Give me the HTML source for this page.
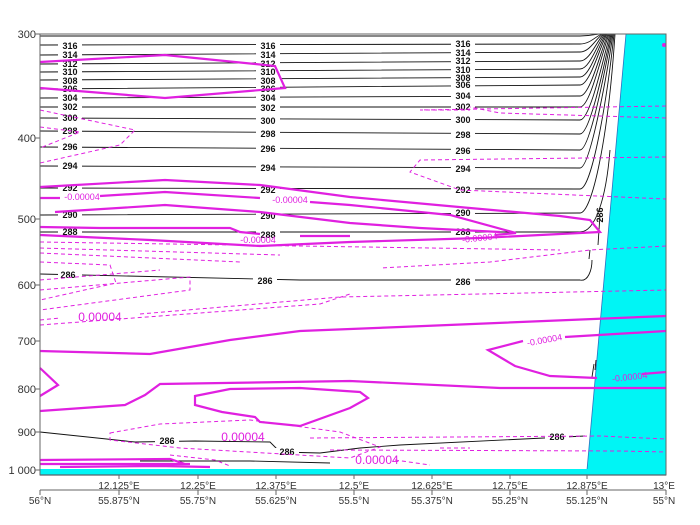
<!DOCTYPE html>
<html><head><meta charset="utf-8"><style>
html,body{margin:0;padding:0;background:#fff;}
svg{display:block;font-family:"Liberation Sans",sans-serif;}
.ax{font-size:11px;fill:#333;}
.lb{font-size:9px;font-weight:bold;fill:#111;}
.ml{font-size:9px;fill:#e020e0;}
</style></head><body>
<svg width="700" height="525" viewBox="0 0 700 525" xmlns="http://www.w3.org/2000/svg">
<rect width="700" height="525" fill="#fff"/>
<!-- cyan terrain -->
<polygon points="626,34 666,34 666,470 587,470" fill="#00f5f5" stroke="#3070c0" stroke-width="0.8"/>
<rect x="40" y="469" width="626" height="6" fill="#00f5f5"/>
<line x1="40" y1="475" x2="666" y2="475" stroke="#1a4f7a" stroke-width="1.2"/>
<!-- isotherms -->
<g fill="none" stroke="#111" stroke-width="0.9">
<path d="M40,36 L580,36 C592,36 596,34 600,34"/>
<path d="M40,45 L580,44 C590,44 596,36 602,34"/>
<path d="M40,55 L580,52 C590,52 596,38 603,34"/>
<path d="M40,64 L580,61 C590,61 597,40 604,34"/>
<path d="M40,72 L580,69 C590,69 598,42 605,34"/>
<path d="M40,80 L580,77 C590,77 599,44 606,34"/>
<path d="M40,89 L580,85 C590,85 600,46 607,34"/>
<path d="M40,98 L580,96 C590,96 601,50 608,34"/>
<path d="M40,107 L580,107 C590,107 601,56 609,34"/>
<path d="M40,118 L580,120 C590,120 603,60 610,34"/>
<path d="M40,131 L580,134 C590,134 604,66 611,34"/>
<path d="M40,147 L580,150 C590,150 605,70 612,34"/>
<path d="M40,166 L580,168 C590,168 606,80 613,34"/>
<path d="M40,188 L580,189 C592,189 607,100 614,34"/>
<path d="M40,215 L580,213 C592,213 608,140 615,34"/>
<path d="M40,232 L580,232 C595,232 606,200 610,150"/>
<path d="M40,274 L300,280 L580,280 C588,282 592,270 592,260"/>
<path d="M589,259 L590,250 M598,245 L600,215"/>
<path d="M594,364 L592,377 M596,360 L595,370"/>
<path d="M40,432 L135,442 L195,441 L270,442 L280,452 L320,453 L360,448 L400,445 L585,436"/>
<path d="M140,461 L250,461 L330,463"/>
</g>
<!-- isotherm labels -->
<g class="lb" text-anchor="middle">
<g fill="#fff" stroke="none">
<rect x="58" y="40" width="24" height="96"/><rect x="256" y="39" width="24" height="99"/><rect x="451" y="38" width="24" height="101"/>
<rect x="58" y="142" width="24" height="10"/><rect x="256" y="142" width="24" height="10"/><rect x="451" y="145" width="24" height="10"/>
<rect x="58" y="161" width="24" height="10"/><rect x="256" y="161" width="24" height="10"/><rect x="451" y="163" width="24" height="10"/>
<rect x="58" y="183" width="24" height="10"/><rect x="256" y="183" width="24" height="10"/><rect x="451" y="184" width="24" height="10"/>
<rect x="58" y="210" width="24" height="10"/><rect x="256" y="210" width="24" height="10"/><rect x="451" y="208" width="24" height="10"/>
<rect x="58" y="227" width="24" height="10"/><rect x="256" y="228" width="24" height="10"/><rect x="451" y="227" width="24" height="10"/>
<rect x="58" y="269" width="24" height="10"/><rect x="253" y="276" width="24" height="10"/><rect x="451" y="277" width="24" height="10"/>
<rect x="155" y="437" width="24" height="10"/><rect x="545" y="432" width="24" height="10"/><rect x="275" y="448" width="24" height="10"/>
</g>
<text x="70" y="49">316</text><text x="268" y="49">316</text><text x="463" y="47">316</text>
<text x="70" y="58">314</text><text x="268" y="58">314</text><text x="463" y="56">314</text>
<text x="70" y="67">312</text><text x="268" y="67">312</text><text x="463" y="64">312</text>
<text x="70" y="75">310</text><text x="268" y="75">310</text><text x="463" y="73">310</text>
<text x="70" y="84">308</text><text x="268" y="84">308</text><text x="463" y="81">308</text>
<text x="70" y="92">306</text><text x="268" y="92">306</text><text x="463" y="88">306</text>
<text x="70" y="101">304</text><text x="268" y="101">304</text><text x="463" y="99">304</text>
<text x="70" y="110">302</text><text x="268" y="111">302</text><text x="463" y="110">302</text>
<text x="70" y="121">300</text><text x="268" y="124">300</text><text x="463" y="123">300</text>
<text x="70" y="134">298</text><text x="268" y="137">298</text><text x="463" y="138">298</text>
<text x="70" y="150">296</text><text x="268" y="152">296</text><text x="463" y="154">296</text>
<text x="70" y="169">294</text><text x="268" y="171">294</text><text x="463" y="172">294</text>
<text x="70" y="191">292</text><text x="268" y="193">292</text><text x="463" y="193">292</text>
<text x="70" y="218">290</text><text x="268" y="219">290</text><text x="463" y="216">290</text>
<text x="70" y="235">288</text><text x="268" y="238">288</text><text x="463" y="235">288</text>
<text x="68" y="278">286</text><text x="265" y="284">286</text><text x="463" y="285">286</text>
<text x="167" y="444">286</text><text x="557" y="440">286</text><text x="287" y="455">286</text>
<text x="0" y="0" transform="translate(603,215) rotate(-90)">286</text>
</g>
<!-- magenta solid -->
<g fill="none" stroke="#e020e0" stroke-width="2.2">
<path d="M40,62 L165,55 L275,66 L285,88 L165,98 L40,88"/>
<path d="M40,187 L165,180 L260,185 L350,197 L470,208 L560,216 L590,220 L600,232 L480,238 L350,242 L260,246 L150,240 L40,235"/>
<path d="M40,198 L60,198 M100,196 L165,192 L260,198 M310,202 L350,205 L450,215 L516,233 L495,235"/>
<path d="M55,212 L165,205 L260,212 L350,223 L420,228 L500,232"/>
<path d="M40,227 L100,228 L230,228 L240,232 L260,234 M300,236 L350,236"/>
<path d="M40,351 L150,354 L230,340 L300,331 L400,327 L666,316"/>
<path d="M40,368 L58,385 L40,396"/>
<path d="M40,411 L125,405 L145,395 L160,384 L350,381 L500,388 L666,388"/>
<path d="M195,396 L230,389 L300,388 L360,392 L368,398 L350,408 L300,426 L260,422 L255,417 L222,412 L195,405 Z"/>
<path d="M666,331 L565,337 M523,341 L488,350 L515,366 L550,376 L597,378 M642,374 L666,372"/>
<path d="M40,460 L170,459 L185,464 M40,464 L190,464 M60,467 L160,466 L210,467"/>
</g>
<g class="ml" text-anchor="middle">
<text x="82" y="200">-0.00004</text>
<text x="290" y="203">-0.00004</text>
<text x="258" y="243">-0.00004</text>
<text x="480" y="241" transform="rotate(-6 480 241)">-0.00004</text>
<text x="545" y="343" transform="rotate(-10 545 343)">-0.00004</text>
<text x="630" y="380" transform="rotate(-6 630 380)">-0.00004</text>
<text x="100" y="321" style="font-size:12px">0.00004</text>
<text x="243" y="441" style="font-size:12px">0.00004</text>
<text x="377" y="464" style="font-size:12px">0.00004</text>
</g>
<!-- magenta dashed -->
<g fill="none" stroke="#e020e0" stroke-width="1" stroke-dasharray="4,3">
<path d="M40,110 L135,130 L120,145 L40,163"/>
<path d="M40,127 L80,132 L40,148"/>
<path d="M666,106 L420,110 L470,110"/>
<path d="M666,118 L500,113 L470,107"/>
<path d="M666,157 L420,160 L410,172 L460,190 L666,199"/>
<path d="M666,246 L590,250 L490,262 L380,268"/>
<path d="M40,242 L300,246 L560,250 M40,248 L280,255 M40,253 L240,262"/>
<path d="M40,262 L110,265 L116,283 L40,300"/>
<path d="M40,290 L190,277 L190,290 L40,310"/>
<path d="M40,320 L60,318 M140,314 L340,297 L666,290"/>
<path d="M40,325 L320,304 L350,294 M40,280 L160,270"/>
<path d="M110,433 L160,424 L250,420 L340,432 L380,447 L350,458 L180,448 L110,440 Z"/>
<path d="M310,438 L600,436 L666,439"/>
<path d="M330,450 L620,451 L666,452"/>
<path d="M440,448 L470,448 M395,460 L430,465"/>
<path d="M170,455 L215,460 L230,466"/>
</g>
<circle cx="664" cy="45" r="2" fill="#e020e0"/>
<!-- frame -->
<rect x="40" y="34" width="626" height="441" fill="none" stroke="#666" stroke-width="1"/>
<g class="ax" text-anchor="end">
<text x="36" y="38">300</text><text x="36" y="142">400</text><text x="36" y="223">500</text>
<text x="36" y="289">600</text><text x="36" y="345">700</text><text x="36" y="393">800</text>
<text x="36" y="436">900</text><text x="36" y="474">1 000</text>
</g>
<g stroke="#666" stroke-width="1">
<line x1="35" y1="34" x2="40" y2="34"/><line x1="35" y1="138" x2="40" y2="138"/><line x1="35" y1="219" x2="40" y2="219"/>
<line x1="35" y1="285" x2="40" y2="285"/><line x1="35" y1="341" x2="40" y2="341"/><line x1="35" y1="389" x2="40" y2="389"/>
<line x1="35" y1="432" x2="40" y2="432"/><line x1="35" y1="470" x2="40" y2="470"/>
<line x1="40" y1="490" x2="666" y2="490"/>
<line x1="40" y1="490" x2="40" y2="495"/><line x1="119" y1="475" x2="119" y2="479"/><line x1="119" y1="490" x2="119" y2="495"/>
<line x1="198" y1="475" x2="198" y2="479"/><line x1="198" y1="490" x2="198" y2="495"/>
<line x1="276" y1="475" x2="276" y2="479"/><line x1="276" y1="490" x2="276" y2="495"/>
<line x1="354" y1="475" x2="354" y2="479"/><line x1="354" y1="490" x2="354" y2="495"/>
<line x1="432" y1="475" x2="432" y2="479"/><line x1="432" y1="490" x2="432" y2="495"/>
<line x1="510" y1="475" x2="510" y2="479"/><line x1="510" y1="490" x2="510" y2="495"/>
<line x1="587" y1="475" x2="587" y2="479"/><line x1="587" y1="490" x2="587" y2="495"/>
<line x1="666" y1="490" x2="666" y2="495"/>
</g>
<g class="ax" text-anchor="middle" style="font-size:10px">
<text x="119" y="489">12.125°E</text><text x="198" y="489">12.25°E</text><text x="276" y="489">12.375°E</text>
<text x="354" y="489">12.5°E</text><text x="432" y="489">12.625°E</text><text x="510" y="489">12.75°E</text>
<text x="587" y="489">12.875°E</text><text x="664" y="489">13°E</text>
<text x="40" y="504">56°N</text><text x="119" y="504">55.875°N</text><text x="198" y="504">55.75°N</text>
<text x="276" y="504">55.625°N</text><text x="354" y="504">55.5°N</text><text x="432" y="504">55.375°N</text>
<text x="510" y="504">55.25°N</text><text x="587" y="504">55.125°N</text><text x="664" y="504">55°N</text>
</g>
</svg>
</body></html>
